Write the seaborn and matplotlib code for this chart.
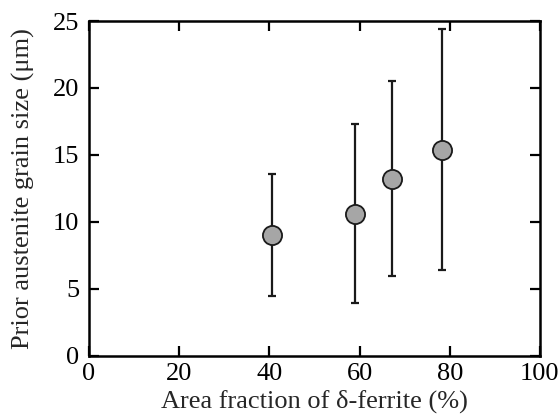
import numpy as np
import pandas as pd
import matplotlib
matplotlib.use("Agg")
import matplotlib.pyplot as plt
import seaborn as sns

# datos
ferrite = [40.5, 59.1, 67.3, 78.4]
grain = [9.0, 10.6, 13.2, 15.4]
err_low = [4.5, 3.95, 5.95, 6.4]
err_high = [13.6, 17.3, 20.5, 24.4]

df = pd.DataFrame({'ferrite': ferrite, 'grain': grain,
                   'low': err_low, 'high': err_high})

sns.set_theme(style="ticks")
plt.rcParams['font.family'] = ['Liberation Serif', 'DejaVu Serif']

fig = plt.figure(figsize=(5.58, 4.2), dpi=100)
ax = fig.add_axes([0.1595, 0.1524, 0.808, 0.7976])

# barras de error
yerr = np.array([df['grain'] - df['low'], df['high'] - df['grain']])
ax.errorbar(df['ferrite'], df['grain'], yerr=yerr, fmt='none',
            ecolor='#1a1a1a', elinewidth=1.6, capsize=3, capthick=1.6, zorder=2)

# puntos
sns.scatterplot(data=df, x='ferrite', y='grain', ax=ax, s=190,
                color='#a6a6a6', edgecolor='#1a1a1a', linewidth=1.3, zorder=3)

ax.set_xlim(0, 100)
ax.set_ylim(0, 25)
ax.set_xticks([0, 20, 40, 60, 80, 100])
ax.set_yticks([0, 5, 10, 15, 20, 25])
ax.tick_params(direction='in', top=True, right=True, length=7, width=1.6,
               labelsize=19, colors='black')
ax.tick_params(axis='y', pad=7)
ax.tick_params(axis='x', pad=5)
for sp in ax.spines.values():
    sp.set_linewidth(1.8)
    sp.set_color('black')

ax.set_xlabel('Area fraction of δ-ferrite (%)', fontsize=19, labelpad=3)
ax.set_ylabel('Prior austenite grain size (μm)', fontsize=19, labelpad=13)

fig.savefig('out.png', dpi=100)
